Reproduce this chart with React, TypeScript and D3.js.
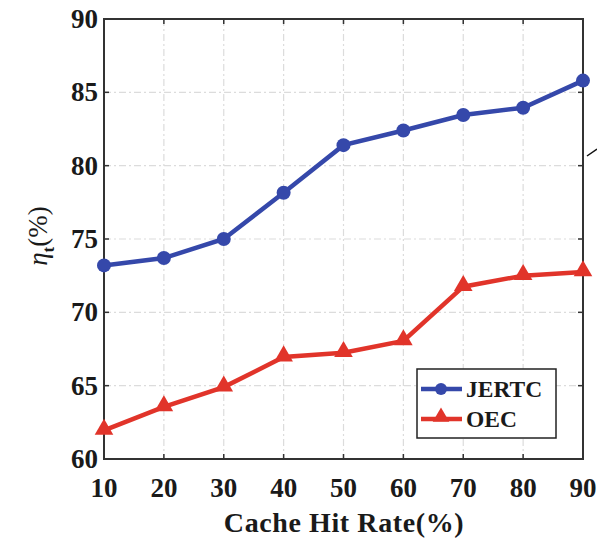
import React, { useEffect, useRef } from "react";
import * as d3 from "d3";

const hitRates = [10, 20, 30, 40, 50, 60, 70, 80, 90];
const jertc = [73.2, 73.7, 75.0, 78.15, 81.4, 82.4, 83.45, 83.95, 85.8];
const oec = [61.95, 63.55, 64.9, 66.95, 67.25, 68.05, 71.75, 72.5, 72.75];
const yTicks = [60, 65, 70, 75, 80, 85, 90];
const seriesNames = ["JERTC", "OEC"];
const seriesColors = ["#3548aa", "#e1342a"];

function App() {
  const ref = useRef<SVGSVGElement>(null);

  useEffect(() => {
    const svg = d3.select(ref.current);
    svg.selectAll("*").remove();

    const left = 104, right = 583, top = 19, bottom = 459;
    const x = d3.scaleLinear().domain([10, 90]).range([left, right]);
    const y = d3.scaleLinear().domain([60, 90]).range([bottom, top]);
    const font = "'Liberation Serif', 'Times New Roman', serif";

    // grid
    const grid = svg.append("g");
    hitRates.slice(1, -1).forEach((v) => {
      grid.append("line")
        .attr("x1", x(v)).attr("x2", x(v)).attr("y1", top).attr("y2", bottom)
        .attr("stroke", "#dcdcdc").attr("stroke-width", 1.2)
        .attr("stroke-dasharray", "7,3,2,3");
    });
    yTicks.slice(1, -1).forEach((v) => {
      grid.append("line")
        .attr("x1", left).attr("x2", right).attr("y1", y(v)).attr("y2", y(v))
        .attr("stroke", "#dcdcdc").attr("stroke-width", 1.2)
        .attr("stroke-dasharray", "7,3,2,3");
    });

    // ticks (inside, all four sides)
    const tk = svg.append("g").attr("stroke", "#333").attr("stroke-width", 1.5);
    hitRates.forEach((v) => {
      tk.append("line").attr("x1", x(v)).attr("x2", x(v)).attr("y1", bottom).attr("y2", bottom - 5);
      tk.append("line").attr("x1", x(v)).attr("x2", x(v)).attr("y1", top).attr("y2", top + 5);
    });
    yTicks.forEach((v) => {
      tk.append("line").attr("x1", left).attr("x2", left + 5).attr("y1", y(v)).attr("y2", y(v));
      tk.append("line").attr("x1", right).attr("x2", right - 5).attr("y1", y(v)).attr("y2", y(v));
    });

    svg.append("rect")
      .attr("x", left).attr("y", top).attr("width", right - left).attr("height", bottom - top)
      .attr("fill", "none").attr("stroke", "#333").attr("stroke-width", 2);

    // tick labels
    svg.append("g").selectAll("text").data(yTicks).enter().append("text")
      .attr("x", left - 6).attr("y", (d) => y(d) + 9)
      .attr("text-anchor", "end").attr("font-family", font).attr("font-weight", "bold")
      .attr("font-size", 27).attr("fill", "#1a1a1a").text((d) => d);
    svg.append("g").selectAll("text").data(hitRates).enter().append("text")
      .attr("x", (d) => x(d)).attr("y", 497)
      .attr("text-anchor", "middle").attr("font-family", font).attr("font-weight", "bold")
      .attr("font-size", 27).attr("fill", "#1a1a1a").text((d) => d);

    svg.append("text")
      .attr("x", 344).attr("y", 532)
      .attr("text-anchor", "middle").attr("font-family", font).attr("font-weight", "bold")
      .attr("font-size", 28).attr("letter-spacing", 0.6).attr("fill", "#1a1a1a").text("Cache Hit Rate(%)");

    const yl = svg.append("text")
      .attr("transform", "translate(47,236) rotate(-90)")
      .attr("text-anchor", "middle").attr("font-family", font)
      .attr("font-size", 27).attr("fill", "#1a1a1a");
    yl.append("tspan").attr("font-style", "italic").text("η");
    yl.append("tspan").attr("font-size", 17).attr("dy", 7).attr("font-weight", "bold").text("t");
    yl.append("tspan").attr("dy", -7).text("(%)");

    // series
    const data = [jertc, oec];
    const line = d3.line<number>().x((_, i) => x(hitRates[i])).y((d) => y(d));
    const tri = d3.symbol().type(d3.symbolTriangle).size(150);
    data.forEach((vals, s) => {
      const g = svg.append("g");
      g.append("path").datum(vals).attr("d", line).attr("fill", "none")
        .attr("stroke", seriesColors[s]).attr("stroke-width", 4.5);
      vals.forEach((v, i) => {
        if (s === 0) {
          g.append("circle").attr("cx", x(hitRates[i])).attr("cy", y(v)).attr("r", 7)
            .attr("fill", seriesColors[s]);
        } else {
          g.append("path").attr("d", tri as any)
            .attr("transform", `translate(${x(hitRates[i])},${y(v) - 1})`)
            .attr("fill", seriesColors[s]);
        }
      });
    });

    // legend
    const lg = svg.append("g");
    lg.append("rect").attr("x", 417).attr("y", 369).attr("width", 139).attr("height", 69)
      .attr("fill", "#fff").attr("stroke", "#222").attr("stroke-width", 1.5);
    seriesNames.forEach((name, s) => {
      const ly = 389 + s * 30;
      lg.append("line").attr("x1", 421).attr("x2", 462).attr("y1", ly).attr("y2", ly)
        .attr("stroke", seriesColors[s]).attr("stroke-width", 4.5);
      if (s === 0) {
        lg.append("circle").attr("cx", 441).attr("cy", ly).attr("r", 6).attr("fill", seriesColors[s]);
      } else {
        lg.append("path").attr("d", d3.symbol().type(d3.symbolTriangle).size(120) as any)
          .attr("transform", `translate(441,${ly - 2})`).attr("fill", seriesColors[s]);
      }
      lg.append("text").attr("x", 466).attr("y", ly + 8)
        .attr("font-family", font).attr("font-weight", "bold").attr("font-size", 23.5)
        .attr("fill", "#1a1a1a").text(name);
    });

    // stray annotation arrow at the right edge
    svg.append("line").attr("x1", 587).attr("y1", 156).attr("x2", 597).attr("y2", 149)
      .attr("stroke", "#111").attr("stroke-width", 1.5);
  }, []);

  return (
    <svg ref={ref} width={597} height={540}
      style={{ position: "absolute", left: 0, top: 0, background: "#fff" }} />
  );
}

export default App;
